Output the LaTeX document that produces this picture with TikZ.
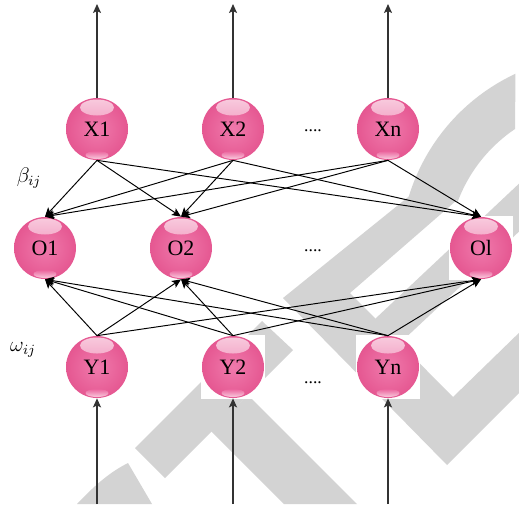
\documentclass[tikz,border=0pt]{standalone}
\usepackage{fontspec}
\setmainfont{Liberation Serif}
\usepackage{tikz}
\usetikzlibrary{arrows.meta, backgrounds}

\definecolor{ballpink}{HTML}{EC659E}
\definecolor{balldark}{HTML}{E55791}
\definecolor{ballpale}{HTML}{F07AAC}
\definecolor{markgray}{HTML}{D3D3D3}

\begin{document}
\begin{tikzpicture}[
    x=0.02cm, y=-0.02cm,
    sphere/.style={circle, minimum size=1.24cm, inner sep=0pt, font=\fontsize{12.5}{14}\selectfont,
        inner color=ballpale, outer color=balldark,
        path picture={
            \shade[top color=white!75!ballpink, bottom color=ballpink, opacity=0.9]
                ([yshift=0.43cm]path picture bounding box.center) ellipse [x radius=0.34cm, y radius=0.16cm];
            \shade[top color=ballpink, bottom color=white!70!ballpink, opacity=0.95]
                ([yshift=-0.52cm]path picture bounding box.center) ellipse [x radius=0.23cm, y radius=0.08cm];
        }},
    link/.style={-{Stealth[length=1.8mm, width=1.6mm, inset=0.4mm]}, line width=0.55pt},
    io/.style={-{Stealth[length=1.8mm, width=1.6mm, inset=0.4mm]}, line width=0.9pt, black!80},
    dots/.style={font=\fontsize{10}{12}\selectfont},
    wlabel/.style={font=\large},
]
\useasboundingbox (0,0) rectangle (519,504);

% output layer
\node[sphere] (X1) at (97,129) {X1};
\node[sphere] (X2) at (233,129) {X2};
\node[sphere] (Xn) at (388,129) {Xn};
\node[dots] (xdots) at (313,131) {....};

% hidden layer
\node[sphere] (O1) at (45,248) {O1};
\node[sphere] (O2) at (181,248) {O2};
\node[sphere] (Ol) at (481,248) {Ol};
\node[dots] (odots) at (313,251) {....};

% input layer
\node[sphere] (Y1) at (97,367) {Y1};
\node[sphere] (Y2) at (233,367) {Y2};
\node[sphere] (Yn) at (388,367) {Yn};
\node[dots] (ydots) at (313,383) {....};

\node[wlabel] (beta) at (29,178) {$\beta_{ij}$};
\node[wlabel] (omega) at (23,350) {$\omega_{ij}$};

% free ends of the in/out arrows
\foreach \n in {X1,X2,Xn} {
    \coordinate (\n-out) at (\n |- 0,4);
    \draw[io] (\n.north) -- (\n-out);
}
\foreach \n in {Y1,Y2,Yn} {
    \coordinate (\n-in) at (\n |- 0,504);
    \draw[io] (\n-in) -- (\n.south);
}

% weights
\foreach \a in {X1,X2,Xn}
    \foreach \b in {O1,O2,Ol}
        \draw[link] (\a.south) -- (\b.north);
\foreach \a in {Y1,Y2,Yn}
    \foreach \b in {O1,O2,Ol}
        \draw[link] (\a.north) -- (\b.south);

% watermark and white backs of the balls
\begin{scope}[on background layer]
\fill[markgray] plot[domain=115:163, samples=24] ({600+200*cos(\x)},{255-200*sin(\x)})
    -- (283,298) -- (447,465) -- (525,387) -- (525,327) -- (453,397) -- (350,293) -- (457,200)
    -- plot[domain=160:124, samples=20] ({600+152*cos(\x)},{255-152*sin(\x)}) -- cycle;
\fill[markgray] (525,178) -- (375,319) -- (400,343) -- (525,226) -- cycle;
\fill[markgray] (135,448) -- (262,321) -- (293,350) -- (165,478) -- cycle;
\fill[markgray] (248,395) -- (357,504) -- (284,504) -- (211,431) -- cycle;
\fill[markgray] (77,504) .. controls (95,485) and (110,472) .. (128,463) -- (152,504) -- cycle;
\foreach \n in {X1,X2,Xn,O1,O2,Ol,Y1,Y2,Yn}
    \fill[white] (\n.center) ++(-32,-32) rectangle ++(64,64);
\end{scope}
\end{tikzpicture}
\end{document}
